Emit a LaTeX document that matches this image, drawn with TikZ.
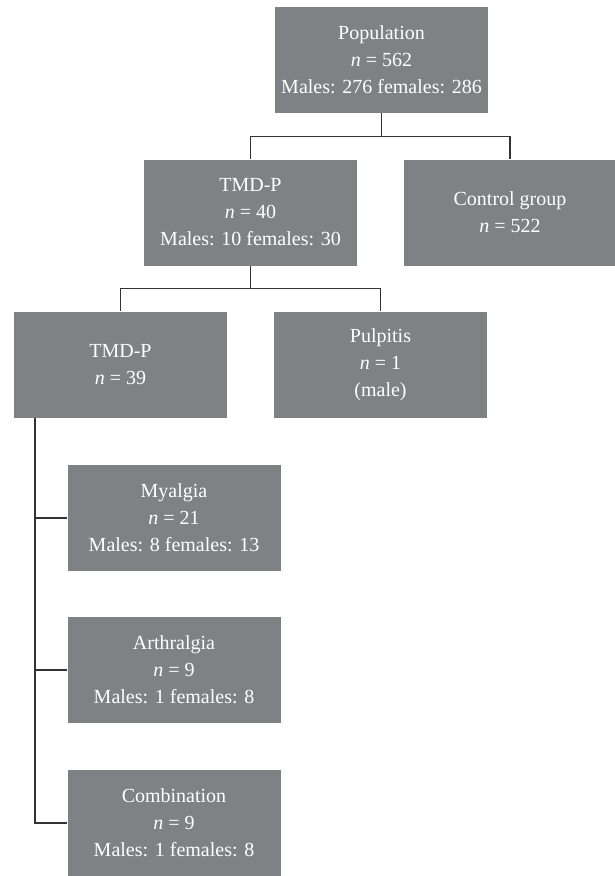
\documentclass[tikz,border=0pt]{standalone}
\usepackage{fontspec}
\setmainfont{Liberation Serif}
\begin{document}
\begin{tikzpicture}[x=1pt,y=-1pt,
  box/.style={fill=boxgray,draw=none,text=white,minimum width=213pt,minimum height=106pt,
    align=center,inner sep=0pt,font=\fontsize{20}{27}\selectfont},
  conn/.style={draw=linegray,line width=1.2pt}]
\definecolor{boxgray}{HTML}{808185}
\definecolor{linegray}{HTML}{333333}
\useasboundingbox (0,0) rectangle (615,876);
\node[box] (pop) at (381.5,60) {Population\\\textit{n} = 562\\Males: 276 females: 286};
\node[box] (tmd) at (250.5,212.5) {TMD-P\\\textit{n} = 40\\Males: 10 females: 30};
\node[box] (ctl) at (510,212.5) {Control group\\\textit{n} = 522};
\node[box] (tmd2) at (120.5,364.5) {TMD-P\\\textit{n} = 39};
\node[box] (pul) at (380.5,364.5) {Pulpitis\\\textit{n} = 1\\(male)};
\node[box] (mya) at (174,518) {Myalgia\\\textit{n} = 21\\Males: 8 females: 13};
\node[box] (art) at (174,670) {Arthralgia\\\textit{n} = 9\\Males: 1 females: 8};
\node[box] (com) at (174,823) {Combination\\\textit{n} = 9\\Males: 1 females: 8};
\draw[conn] (pop.south) -- ++(0,23) -| (tmd.north);
\draw[conn] (pop.south) -- ++(0,23) -| (ctl.north);
\draw[conn] (tmd.south) -- ++(0,23) -| (tmd2.north);
\draw[conn] (tmd.south) -- ++(0,23) -| (pul.north);
\coordinate (trunk) at (35,417.5);
\draw[conn] (trunk) |- (mya.west);
\draw[conn] (trunk) |- (art.west);
\draw[conn] (trunk) |- (com.west);
\end{tikzpicture}
\end{document}
